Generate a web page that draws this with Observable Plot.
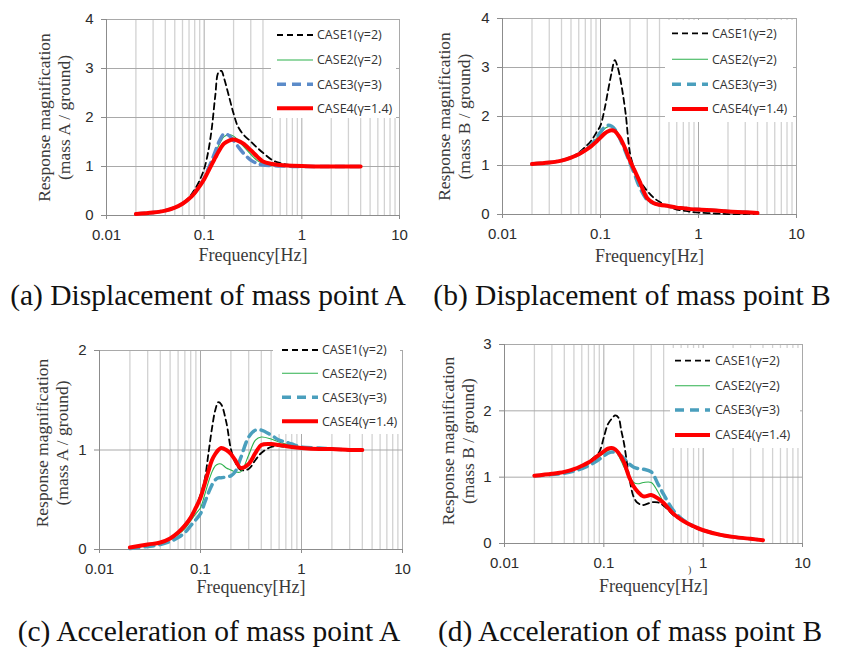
<!DOCTYPE html>
<html><head><meta charset="utf-8">
<script src="https://cdn.jsdelivr.net/npm/d3@7"></script>
<script src="https://cdn.jsdelivr.net/npm/@observablehq/plot@0.6"></script>
<style>
body{margin:0;background:#fff;}
#root{position:relative;width:846px;height:648px;overflow:hidden;background:#fff;}
.panel{position:absolute;}
#overlay{position:absolute;left:0;top:0;pointer-events:none;}
</style></head><body><div id="root"></div>
<script>
// ---- data ----
const FREQ = [0.02,0.03,0.04,0.05,0.06,0.07,0.08,0.09,0.1,0.11,0.12,0.13,0.14,0.15,0.16,0.18,0.2,0.22,0.25,0.3,0.35,0.4,0.5,0.6,0.7,0.8,1,1.5,2,3,4];
const CASES = ["CASE1(γ=2)","CASE2(γ=2)","CASE3(γ=3)","CASE4(γ=1.4)"];
const X_TICKS = [0.01,0.1,1,10];
const X_MINOR = [0.02,0.03,0.04,0.05,0.06,0.07,0.08,0.09,0.2,0.3,0.4,0.5,0.6,0.7,0.8,0.9,2,3,4,5,6,7,8,9];

// (a) displacement of mass point A
const A_CASE1 = [0.03,0.06,0.1,0.16,0.25,0.37,0.53,0.72,0.95,1.3,1.8,2.45,2.92,2.95,2.8,2.42,2.08,1.83,1.66,1.51,1.38,1.28,1.13,1.07,1.04,1.02,1.01,1.0,1.0,1.0,1.0];
const A_CASE2 = [0.03,0.06,0.1,0.16,0.24,0.34,0.46,0.6,0.75,0.93,1.1,1.27,1.42,1.53,1.61,1.65,1.62,1.55,1.42,1.25,1.12,1.06,1.03,1.02,1.01,1.01,1.0,1.0,1.0,1.0,1.0];
const A_CASE3 = [0.03,0.06,0.1,0.16,0.24,0.34,0.46,0.6,0.76,0.95,1.13,1.31,1.48,1.6,1.67,1.63,1.53,1.42,1.28,1.13,1.06,1.03,1.02,1.01,1.01,1.0,1.0,1.0,1.0,1.0,1.0];
const A_CASE4 = [0.03,0.06,0.1,0.16,0.24,0.34,0.46,0.6,0.74,0.9,1.05,1.18,1.3,1.4,1.47,1.53,1.55,1.53,1.47,1.33,1.2,1.1,1.05,1.03,1.02,1.015,1.01,1.0,1.0,1.0,1.0];
// (b) displacement of mass point B
const B_CASE1 = [1.03,1.06,1.1,1.17,1.26,1.38,1.5,1.66,1.82,2.15,2.55,2.9,3.15,3.0,2.75,2.08,1.25,0.95,0.7,0.48,0.34,0.26,0.16,0.1,0.08,0.06,0.04,0.02,0.01,0.01,0.01];
const B_CASE2 = [1.03,1.06,1.1,1.16,1.23,1.32,1.42,1.54,1.66,1.75,1.79,1.8,1.76,1.67,1.56,1.32,1.1,0.9,0.62,0.33,0.23,0.2,0.17,0.14,0.13,0.115,0.1,0.08,0.06,0.045,0.03];
const B_CASE3 = [1.03,1.06,1.1,1.16,1.23,1.32,1.42,1.55,1.68,1.78,1.82,1.8,1.74,1.64,1.52,1.28,1.05,0.85,0.56,0.3,0.23,0.2,0.17,0.14,0.13,0.115,0.1,0.08,0.06,0.045,0.03];
const B_CASE4 = [1.03,1.06,1.1,1.16,1.23,1.31,1.39,1.48,1.57,1.65,1.7,1.72,1.7,1.63,1.55,1.33,1.1,0.92,0.68,0.33,0.23,0.2,0.17,0.14,0.13,0.115,0.1,0.08,0.06,0.045,0.03];
// (c) acceleration of mass point A
const C_CASE1 = [0.02,0.05,0.07,0.11,0.17,0.25,0.33,0.43,0.55,0.7,0.97,1.22,1.4,1.48,1.46,1.28,1.01,0.88,0.8,0.81,0.9,0.97,1.03,1.04,1.03,1.03,1.02,1.01,1.01,1.0,1.0];
const C_CASE2 = [0.02,0.04,0.06,0.1,0.15,0.21,0.29,0.36,0.42,0.55,0.68,0.78,0.84,0.86,0.86,0.82,0.8,0.78,0.78,0.95,1.1,1.13,1.11,1.08,1.06,1.05,1.03,1.01,1.01,1.0,1.0];
const C_CASE3 = [0.01,0.03,0.05,0.08,0.12,0.17,0.24,0.3,0.36,0.47,0.57,0.65,0.7,0.72,0.72,0.73,0.74,0.78,0.92,1.13,1.2,1.2,1.15,1.1,1.08,1.06,1.03,1.02,1.01,1.0,1.0];
const C_CASE4 = [0.02,0.05,0.07,0.11,0.17,0.24,0.32,0.42,0.52,0.66,0.79,0.9,0.96,1.0,1.02,1.0,0.96,0.9,0.82,0.86,0.97,1.05,1.06,1.05,1.04,1.03,1.02,1.01,1.01,1.0,1.0];
// (d) acceleration of mass point B
const D_CASE1 = [1.02,1.05,1.08,1.12,1.17,1.23,1.3,1.38,1.6,1.8,1.88,1.93,1.9,1.7,1.5,1.0,0.7,0.61,0.58,0.62,0.62,0.57,0.43,0.35,0.29,0.25,0.19,0.13,0.1,0.07,0.05];
const D_CASE2 = [1.02,1.05,1.07,1.11,1.15,1.2,1.26,1.31,1.36,1.4,1.42,1.4,1.33,1.24,1.15,1.0,0.92,0.9,0.92,0.92,0.78,0.62,0.45,0.36,0.29,0.25,0.19,0.13,0.1,0.07,0.05];
const D_CASE3 = [1.02,1.04,1.06,1.09,1.13,1.17,1.22,1.27,1.32,1.36,1.38,1.37,1.35,1.32,1.28,1.2,1.15,1.13,1.12,1.08,0.9,0.74,0.5,0.38,0.31,0.26,0.2,0.13,0.1,0.07,0.05];
const D_CASE4 = [1.02,1.05,1.08,1.12,1.17,1.22,1.28,1.34,1.39,1.43,1.44,1.42,1.37,1.3,1.22,1.0,0.86,0.78,0.71,0.73,0.68,0.61,0.45,0.36,0.3,0.26,0.2,0.13,0.1,0.07,0.05];

const CAPTIONS = ["(a) Displacement of mass point A","(b) Displacement of mass point B","(c) Acceleration of mass point A","(d) Acceleration of mass point B"];
const Y_TITLE1 = "Response magnification";
const Y_TITLES2 = ["(mass A / ground)","(mass B / ground)","(mass A / ground)","(mass B / ground)"];
const X_TITLE = "Frequency[Hz]";

// ---- layout ----
const PANELS = [
  {series:[A_CASE1,A_CASE2,A_CASE3,A_CASE4], yMax:4, blue:"#5b8bc9", left:0, top:0, w:423, h:270, ml:106, mr:24, mt:19, mb:55, tdx:-53, tdy:0, xdy:45,
   leg:{x0:271,x1:396,y0:20,y1:118,lx0:277,lx1:313,tx:317,rows:[35,60,84.3,108.3]}, cap:{x:208,y:305}},
  {series:[B_CASE1,B_CASE2,B_CASE3,B_CASE4], yMax:4, blue:"#4a9fbd", left:423, top:0, w:423, h:270, ml:79, mr:50, mt:18, mb:56, tdx:-49, tdy:0, xdy:47,
   leg:{x0:665,x1:793,y0:20,y1:122,lx0:672,lx1:708,tx:712,rows:[33.3,59.3,84.3,109]}, cap:{x:632,y:305}},
  {series:[C_CASE1,C_CASE2,C_CASE3,C_CASE4], yMax:2, blue:"#4a9fbd", left:0, top:320, w:423, h:280, ml:99, mr:21, mt:30, mb:51, tdx:-48, tdy:-7, xdy:43,
   leg:{x0:273,x1:400,y0:338,y1:434,lx0:282,lx1:318,tx:322,rows:[350,373.3,397.3,421.3]}, cap:{x:209,y:641}},
  {series:[D_CASE1,D_CASE2,D_CASE3,D_CASE4], yMax:3, blue:"#4a9fbd", left:423, top:320, w:423, h:280, ml:81, mr:44, mt:24, mb:57, tdx:-47, tdy:-3, xdy:48,
   leg:{x0:670,x1:800,y0:348,y1:448,lx0:675,lx1:710,tx:715,rows:[360.7,385.7,410,435]}, cap:{x:630,y:641}}
];

function styles(blue){
  return [
    {stroke:"#000000", w:1.8, dash:"6,4"},
    {stroke:"#2db14c", w:1.1, dash:null},
    {stroke:blue, w:3.5, dash:"9,6"},
    {stroke:"#ff0000", w:4, dash:null}
  ];
}

const SERIF = "Liberation Serif, Times New Roman, serif";
const root = document.getElementById("root");

PANELS.forEach((p, pi) => {
  const st = styles(p.blue);
  const yTicks = d3.range(0, p.yMax + 1);
  const lineMarks = p.series.map((vals, ci) => {
    const data = FREQ.map((f, j) => ({f, v: vals[j]}));
    return Plot.line(data, {x:"f", y:"v", stroke: st[ci].stroke, strokeWidth: st[ci].w,
      strokeDasharray: st[ci].dash || undefined, curve:"catmull-rom"});
  });
  const chart = Plot.plot({
    width:p.w, height:p.h, marginLeft:p.ml, marginRight:p.mr, marginTop:p.mt, marginBottom:p.mb,
    style:{background:"transparent", overflow:"visible"},
    x:{type:"log", domain:[0.01,10]},
    y:{domain:[0,p.yMax]},
    marks:[
      Plot.ruleX(X_MINOR, {stroke:"#d2d2d2", strokeWidth:1.3}),
      Plot.ruleX(X_TICKS, {stroke:"#a9a9a9", strokeWidth:1}),
      Plot.ruleY(yTicks, {stroke:"#a9a9a9", strokeWidth:1}),
      Plot.ruleX([0.01], {stroke:"#8c8c8c", strokeWidth:1}),
      Plot.ruleY([0], {stroke:"#8c8c8c", strokeWidth:1}),
      Plot.axisX(X_TICKS, {tickFormat:d => String(d), tickSize:4, tickPadding:10, stroke:"#8c8c8c",
        fontSize:15, fontFamily:"Liberation Sans, Arial, sans-serif", fill:"#2b2b2b", label:null}),
      Plot.axisY(yTicks, {tickFormat:d => String(d), tickSize:5, tickPadding:8, stroke:"#8c8c8c",
        fontSize:15, fontFamily:"Liberation Sans, Arial, sans-serif", fill:"#2b2b2b", label:null}),
      ...lineMarks,
      Plot.text([X_TITLE], {text:d => d, frameAnchor:"bottom", lineAnchor:"bottom", dy:p.xdy,
        fontFamily:SERIF, fontSize:18, fill:"#3a3a3a"}),
      Plot.text([Y_TITLE1 + "\n" + Y_TITLES2[pi]], {text:d => d, frameAnchor:"left", rotate:-90,
        dx:p.tdx, dy:p.tdy, lineHeight:1.15, lineAnchor:"middle", textAnchor:"middle",
        fontFamily:SERIF, fontSize:17.5, fill:"#3a3a3a"})
    ]
  });
  chart.classList.add("panel");
  chart.style.left = p.left + "px";
  chart.style.top = p.top + "px";
  root.appendChild(chart);
});

// ---- overlay: legends and captions ----
const svg = d3.select(root).append("svg").attr("id","overlay").attr("width",846).attr("height",648);
PANELS.forEach((p, pi) => {
  const st = styles(p.blue);
  const L = p.leg;
  svg.append("rect").attr("x",L.x0).attr("y",L.y0).attr("width",L.x1-L.x0).attr("height",L.y1-L.y0).attr("fill","#fff");
  CASES.forEach((c, ci) => {
    const y = L.rows[ci];
    svg.append("line").attr("x1",L.lx0).attr("x2",L.lx1).attr("y1",y).attr("y2",y)
      .attr("stroke",st[ci].stroke).attr("stroke-width",st[ci].w)
      .attr("stroke-dasharray",st[ci].dash);
    svg.append("text").attr("x",L.tx).attr("y",y).attr("dy","0.35em")
      .attr("font-family","Open Sans, Noto Sans, sans-serif").attr("font-size",12.5).attr("fill","#333")
      .text(c);
  });
  svg.append("text").attr("x",p.cap.x).attr("y",p.cap.y).attr("text-anchor","middle")
    .attr("font-family",SERIF).attr("font-size",29.5).attr("fill","#111")
    .text(CAPTIONS[pi]);
});
svg.append("text").attr("x",688).attr("y",573).attr("font-family",SERIF).attr("font-size",10).attr("fill","#333").text(")");
</script>
</body></html>
